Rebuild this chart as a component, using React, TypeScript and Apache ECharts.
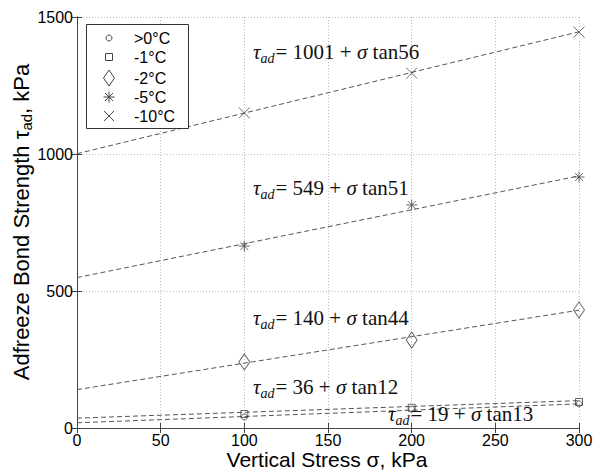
import React, { useEffect, useRef } from "react";
import * as echarts from "echarts";

// ---- data ----
const temperatures = [">0°C", "-1°C", "-2°C", "-5°C", "-10°C"];
const stressX = [100, 200, 300];
const strengthAbove0 = [40, 69, 88];
const strengthMinus1 = [51, 74, 95];
const strengthMinus2 = [241, 321, 431];
const strengthMinus5 = [664, 814, 916];
const strengthMinus10 = [1150, 1295, 1445];
const fitX = [0, 300];
const fitAtStart = [19, 36, 140, 549, 1001];
const fitAtEnd = [88, 100, 430, 920, 1446];
const eqIntercepts = ["19", "36", "140", "549", "1001"];
const eqAngles = ["13", "12", "44", "51", "56"];

const SANS = "Liberation Sans, Arial, sans-serif";
const SERIF = "Liberation Serif, Times New Roman, serif";
const INK = "#444";

const asteriskPath =
  "path://M0,-1L0,1M-1,0L1,0M-0.71,-0.71L0.71,0.71M-0.71,0.71L0.71,-0.71";
const crossPath = "path://M-1,-1L1,1M-1,1L1,-1";

const symbols: any[] = ["circle", "rect", "diamond", asteriskPath, crossPath];
const symbolSizes: any[] = [6, 7, [11, 16], 11, 11];
const strengths = [strengthAbove0, strengthMinus1, strengthMinus2, strengthMinus5, strengthMinus10];

// equation label placement (pixel: left, middle y)
const eqPos = [
  [388, 414],
  [253, 387],
  [253, 318],
  [253, 188],
  [253, 52],
];

function eqText(i: number) {
  return `{t|τ}{s|ad}{n|= ${eqIntercepts[i]} + }{t|σ}{n| tan${eqAngles[i]}}`;
}

const eqRich = {
  t: { fontFamily: SERIF, fontSize: 21, fontStyle: "italic", fill: "#111" },
  s: { fontFamily: SERIF, fontSize: 14, fontStyle: "italic", fill: "#111", padding: [12, 1, 0, 0] },
  n: { fontFamily: SERIF, fontSize: 21, fill: "#111" },
};

export default function App() {
  const ref = useRef<HTMLDivElement>(null);
  useEffect(() => {
    if (!ref.current) return;
    const chart = echarts.init(ref.current, undefined, { renderer: "svg" });

    const scatterSeries = temperatures.map((name, i) => ({
      name,
      type: "scatter",
      xAxisIndex: 0,
      yAxisIndex: 0,
      symbol: symbols[i],
      symbolSize: symbolSizes[i],
      itemStyle: { color: "none", borderColor: INK, borderWidth: 1 },
      data: stressX.map((x, j) => [x, strengths[i][j]]),
      z: 3,
    }));

    const fitSeries = temperatures.map((name, i) => ({
      name: name + " fit",
      type: "line",
      xAxisIndex: 0,
      yAxisIndex: 0,
      showSymbol: false,
      symbol: "none",
      lineStyle: { color: "#555", width: 1, type: [5, 3] },
      data: [
        [fitX[0], fitAtStart[i]],
        [fitX[1], fitAtEnd[i]],
      ],
      z: 2,
    }));

    const legendTop = 24;
    const rowY = [38, 57, 78, 97, 116];
    const sx = 109;
    const legendGraphics: any[] = [
      {
        type: "rect",
        shape: { x: 86.5, y: legendTop + 0.5, width: 102, height: 104 },
        style: { fill: "#fff", stroke: "#333", lineWidth: 1 },
        z: 100,
      },
      { type: "circle", shape: { cx: sx, cy: rowY[0], r: 3 }, style: { fill: "none", stroke: INK }, z: 101 },
      { type: "rect", shape: { x: sx - 3.5, y: rowY[1] - 3.5, width: 7, height: 7 }, style: { fill: "none", stroke: INK }, z: 101 },
      {
        type: "polygon",
        shape: { points: [[sx, rowY[2] - 8], [sx + 5.5, rowY[2]], [sx, rowY[2] + 8], [sx - 5.5, rowY[2]]] },
        style: { fill: "none", stroke: INK },
        z: 101,
      },
      { type: "line", shape: { x1: sx, y1: rowY[3] - 5.5, x2: sx, y2: rowY[3] + 5.5 }, style: { stroke: INK }, z: 101 },
      { type: "line", shape: { x1: sx - 5.5, y1: rowY[3], x2: sx + 5.5, y2: rowY[3] }, style: { stroke: INK }, z: 101 },
      { type: "line", shape: { x1: sx - 4, y1: rowY[3] - 4, x2: sx + 4, y2: rowY[3] + 4 }, style: { stroke: INK }, z: 101 },
      { type: "line", shape: { x1: sx - 4, y1: rowY[3] + 4, x2: sx + 4, y2: rowY[3] - 4 }, style: { stroke: INK }, z: 101 },
      { type: "line", shape: { x1: sx - 5, y1: rowY[4] - 5, x2: sx + 5, y2: rowY[4] + 5 }, style: { stroke: INK }, z: 101 },
      { type: "line", shape: { x1: sx - 5, y1: rowY[4] + 5, x2: sx + 5, y2: rowY[4] - 5 }, style: { stroke: INK }, z: 101 },
      ...temperatures.map((t, i) => ({
        type: "text",
        x: 134,
        y: rowY[i],
        style: { text: t, fontFamily: SANS, fontSize: 16, fill: "#000", verticalAlign: "middle" },
        z: 101,
      })),
    ];

    const eqGraphics = eqPos.map((p, i) => ({
      type: "text",
      x: p[0],
      y: p[1],
      style: { text: eqText(i), rich: eqRich, verticalAlign: "middle", align: "left" },
      z: 50,
    }));

    const yTitle = {
      type: "text",
      x: 21,
      y: 222,
      rotation: Math.PI / 2,
      style: {
        text: "{a|Adfreeze Bond Strength }{a|τ}{s|ad}{a|, kPa}",
        align: "center",
        verticalAlign: "middle",
        rich: {
          a: { fontFamily: SANS, fontSize: 22, fill: "#000" },
          s: { fontFamily: SANS, fontSize: 15, fill: "#000", padding: [11, 0, 0, 0] },
        },
      },
      z: 50,
    };

    const xTitle = {
      type: "text",
      x: 327,
      y: 459,
      style: {
        text: "Vertical Stress σ, kPa",
        fontFamily: SANS,
        fontSize: 21,
        fill: "#000",
        align: "center",
        verticalAlign: "middle",
      },
      z: 50,
    };

    const frame = { show: true, lineStyle: { color: INK, width: 1 } };
    const tickIn = { show: true, inside: true, length: 5, lineStyle: { color: INK } };
    const plain = (v: number) => String(v);

    chart.setOption({
      animation: false,
      backgroundColor: "#fff",
      grid: { left: 77, right: 25, top: 17, bottom: 44, containLabel: false, outerBoundsMode: "none" },
      xAxis: [
        {
          type: "value",
          min: 0,
          max: 300,
          interval: 50,
          axisLine: frame,
          axisTick: tickIn,
          axisLabel: { fontFamily: SANS, fontSize: 16, color: "#000", margin: 4, formatter: plain },
          splitLine: { show: true, lineStyle: { color: "#bbb", type: [1, 2], width: 1 } },
        },
        {
          type: "value",
          position: "top",
          min: 0,
          max: 300,
          interval: 50,
          axisLine: frame,
          axisTick: tickIn,
          axisLabel: { show: false },
          splitLine: { show: false },
        },
      ],
      yAxis: [
        {
          type: "value",
          min: 0,
          max: 1500,
          interval: 500,
          axisLine: frame,
          axisTick: tickIn,
          axisLabel: { fontFamily: SANS, fontSize: 16, color: "#000", margin: 4, formatter: plain },
          splitLine: { show: true, lineStyle: { color: "#bbb", type: [1, 2], width: 1 } },
        },
        {
          type: "value",
          position: "right",
          min: 0,
          max: 1500,
          interval: 500,
          axisLine: frame,
          axisTick: tickIn,
          axisLabel: { show: false },
          splitLine: { show: false },
        },
      ],
      series: [...fitSeries, ...scatterSeries],
      graphic: [...eqGraphics, yTitle, xTitle, ...legendGraphics],
    });

    return () => chart.dispose();
  }, []);

  return <div ref={ref} style={{ width: 604, height: 472, position: "absolute", left: 0, top: 0 }} />;
}
